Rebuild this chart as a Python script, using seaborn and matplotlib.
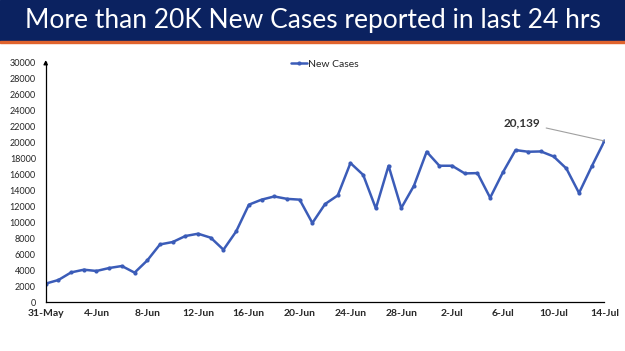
import numpy as np
import pandas as pd
import seaborn as sns
import matplotlib.pyplot as plt
import matplotlib.dates as mdates

# daily new cases, 31-May to 14-Jul
start_date = "2020-05-31"
new_cases = [2300, 2750, 3700, 4040, 3880, 4250, 4500, 3670, 5200, 7200,
             7500, 8250, 8540, 8040, 6540, 8830, 12170, 12800, 13200, 12900,
             12800, 9880, 12250, 13330, 17380, 15900, 11700, 17040, 11750, 14540,
             18790, 17040, 17040, 16080, 16120, 13040, 16200, 19000, 18790, 18830,
             18200, 16700, 13630, 16960, 20139]
tick_every = 4
title = "More than 20K New Cases reported in last 24 hrs"
series_name = "New Cases"
note_label = "20,139"

dates = pd.date_range(start_date, periods=len(new_cases), freq="D")
df = pd.DataFrame({"date": dates, series_name: new_cases})

sns.set_style("white")
plt.rcParams["font.family"] = ["Lato", "DejaVu Sans"]

fig = plt.figure(figsize=(6.25, 3.51), dpi=100)

# title banner
fig.patches.append(plt.Rectangle((0, 0.883), 1, 0.117, transform=fig.transFigure,
                                 color="#0b2260", zorder=0))
fig.patches.append(plt.Rectangle((0, 0.877), 1, 0.006, transform=fig.transFigure,
                                 color="#e0632d", zorder=0))
fig.text(0.5, 0.942, title, color="white", fontsize=19, ha="center", va="center")

ax = fig.add_axes([0.0731, 0.1396, 0.894, 0.6834])
sns.lineplot(data=df, x="date", y=series_name, ax=ax, color="#3b5cb8",
             linewidth=1.8, marker="o", markersize=3, markeredgewidth=0,
             label=series_name)

ax.set_xlim(dates[0], dates[-1])
ax.set_ylim(0, 30000)
ax.set_yticks(np.arange(0, 30001, 2000))
ax.set_xticks(dates[::tick_every])
ax.xaxis.set_major_formatter(mdates.DateFormatter("%-d-%b"))
ax.set_xlabel("")
ax.set_ylabel("")
for s in ["top", "right"]:
    ax.spines[s].set_visible(False)
for s in ["left", "bottom"]:
    ax.spines[s].set_color("black")
    ax.spines[s].set_linewidth(0.9)
ax.tick_params(axis="y", length=0, labelsize=6.5, pad=7)
ax.tick_params(axis="x", direction="in", length=3, width=0.8, labelsize=7.5, pad=5)
for t in ax.get_xticklabels():
    t.set_fontweight("bold")

# arrow on top of y axis
ax.annotate("", xy=(0, 1.02), xytext=(0, 0.98), xycoords="axes fraction",
            arrowprops=dict(arrowstyle="-|>", color="black", lw=0.9,
                            mutation_scale=6))

# label on the last point
ax.annotate(note_label, xy=(dates[-1], new_cases[-1]), xytext=(0.885, 0.748),
            textcoords="axes fraction", fontsize=8.5, fontweight="bold",
            color="#333333", ha="right", va="center",
            arrowprops=dict(arrowstyle="-", color="#a0a0a0", lw=0.8,
                            shrinkA=2, shrinkB=0))

leg = ax.legend(loc="upper center", bbox_to_anchor=(0.5, 1.05), frameon=False,
                fontsize=7.5, handlelength=1.5, handletextpad=0.1)

fig.savefig("out.png", dpi=100)
